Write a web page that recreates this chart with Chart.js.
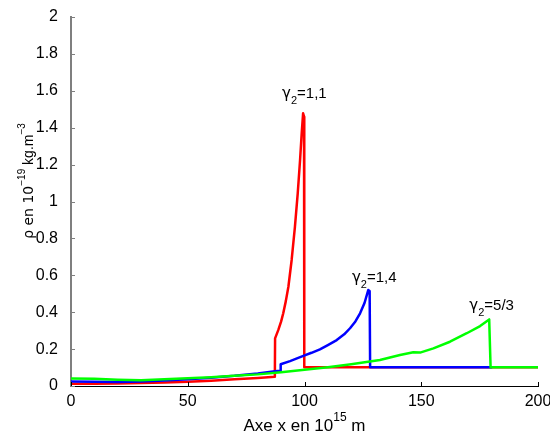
<!DOCTYPE html>
<html>
<head>
<meta charset="utf-8">
<script src="https://cdn.jsdelivr.net/npm/chart.js@4"></script>
<style>
    body { margin: 0; background: #fff; }
</style>
</head>
<body>
<canvas id="myChart" width="550" height="435"></canvas>
<script>
// Axes
const xTicks = [0, 50, 100, 150, 200];
const xTickLabels = ['0', '50', '100', '150', '200'];
const yTicks = [0, 0.2, 0.4, 0.6, 0.8, 1, 1.2, 1.4, 1.6, 1.8, 2];
const yTickLabels = ['0', '0.2', '0.4', '0.6', '0.8', '1', '1.2', '1.4', '1.6', '1.8', '2'];

// gamma2 = 1,1 (rouge)
const redX = [0, 10, 20, 30, 40, 50, 60, 70, 80, 87.3, 87.4, 88.8, 90, 90.9, 92, 93.1, 94.5, 95.9, 97.1, 98.1, 98.8, 99.4, 99.8, 99.9, 120, 140, 160, 180, 200];
const redY = [0.012, 0.012, 0.013, 0.016, 0.019, 0.023, 0.029, 0.036, 0.043, 0.05, 0.258, 0.304, 0.35, 0.394, 0.46, 0.538, 0.683, 0.863, 1.044, 1.225, 1.37, 1.478, 1.46, 0.101, 0.101, 0.101, 0.101, 0.101, 0.101];

// gamma2 = 1,4 (bleu)
const blueX = [0, 10, 20, 30, 40, 50, 60, 70, 80, 87.4, 89.7, 89.8, 93.8, 96.5, 99.5, 103, 106.6, 110, 113.8, 117, 119.5, 121.8, 123.8, 125.7, 127.3, 127.9, 128.1, 140, 160, 180];
const blueY = [0.024, 0.023, 0.022, 0.024, 0.03, 0.037, 0.045, 0.055, 0.068, 0.08, 0.083, 0.118, 0.135, 0.148, 0.163, 0.18, 0.199, 0.222, 0.249, 0.28, 0.313, 0.35, 0.394, 0.45, 0.52, 0.515, 0.101, 0.101, 0.101, 0.101];

// gamma2 = 5/3 (vert)
const greenX = [0, 10, 20, 30, 40, 50, 60, 70, 80, 90, 100, 110, 120, 132.3, 140.9, 146.6, 149.5, 155.2, 162.3, 169.5, 175.2, 179.1, 179.7, 190, 200];
const greenY = [0.04, 0.039, 0.034, 0.031, 0.036, 0.042, 0.048, 0.055, 0.063, 0.075, 0.088, 0.102, 0.118, 0.141, 0.168, 0.183, 0.181, 0.204, 0.24, 0.286, 0.325, 0.361, 0.101, 0.101, 0.101];

// Etiquettes gamma2 (coin gauche, ligne de base, en unités des axes)
const gammaTexts = ['1,1', '1,4', '5/3'];
const gammaX = [90.4, 120.3, 170.6];
const gammaY = [1.56, 0.566, 0.412];

const fontName = '"Liberation Sans", Arial, Helvetica, sans-serif';
const greekFont = '"DejaVu Sans", sans-serif';

function toPoints(xs, ys) {
    return xs.map((x, i) => ({ x: x, y: ys[i] }));
}

// texte avec exposants / indices : parts = [[texte, 0|1|-1, police?], ...]
function drawRich(ctx, parts, x, y, size, align, shift) {
    const small = Math.round(size * 0.7);
    const fontOf = p => (p[1] ? small : size) + 'px ' + (p[2] || fontName);
    let total = 0;
    const widths = parts.map(p => {
        ctx.font = fontOf(p);
        const w = ctx.measureText(p[0]).width;
        total += w;
        return w;
    });
    let cx = align === 'center' ? x - total / 2 : x;
    ctx.textAlign = 'left';
    ctx.textBaseline = 'alphabetic';
    parts.forEach((p, i) => {
        ctx.font = fontOf(p);
        let dy = 0;
        if (p[1] === 1) dy = -size * shift;
        if (p[1] === -1) dy = size * 0.4;
        ctx.fillText(p[0], cx, y + dy);
        cx += widths[i];
    });
}

const extras = {
    id: 'extras',
    afterDraw(chart) {
        const ctx = chart.ctx;
        const xs = chart.scales.x;
        const ys = chart.scales.y;
        const area = chart.chartArea;
        ctx.save();

        // graduations vers l'intérieur
        ctx.lineWidth = 1;
        ctx.strokeStyle = '#000';
        xTicks.forEach(v => {
            const px = Math.round(xs.getPixelForValue(v)) + 0.5;
            ctx.beginPath();
            ctx.moveTo(px, area.bottom);
            ctx.lineTo(px, area.bottom - 4);
            ctx.stroke();
        });
        ctx.strokeStyle = '#7f7f7f';
        yTicks.forEach(v => {
            const py = Math.round(ys.getPixelForValue(v)) + 0.5;
            ctx.beginPath();
            ctx.moveTo(area.left, py);
            ctx.lineTo(area.left + 4, py);
            ctx.stroke();
        });

        ctx.fillStyle = '#000';

        // titre axe x
        drawRich(ctx, [['Axe x en 10', 0], ['15', 1], [' m', 0]],
            (area.left + area.right) / 2, 431, 17, 'center', 0.6);

        // titre axe y
        ctx.save();
        ctx.translate(33, 181);
        ctx.rotate(-Math.PI / 2);
        drawRich(ctx, [['ρ en 10', 0, greekFont], ['−19', 1], [' kg.m', 0], ['−3', 1]],
            0, 0, 14, 'center', 0.55);
        ctx.restore();

        // annotations gamma
        gammaTexts.forEach((t, i) => {
            drawRich(ctx, [['γ', 0, greekFont], ['2', -1], ['=' + t, 0]],
                xs.getPixelForValue(gammaX[i]), ys.getPixelForValue(gammaY[i]), 15, 'left', 0);
        });

        ctx.restore();
    }
};

const ctx = document.getElementById('myChart').getContext('2d');

const config = {
    type: 'line',
    data: {
        datasets: [{
            label: 'γ2=1,1',
            data: toPoints(redX, redY),
            borderColor: 'rgb(255, 0, 0)',
            order: 3
        }, {
            label: 'γ2=1,4',
            data: toPoints(blueX, blueY),
            borderColor: 'rgb(0, 0, 255)',
            order: 2
        }, {
            label: 'γ2=5/3',
            data: toPoints(greenX, greenY),
            borderColor: 'rgb(0, 255, 0)',
            order: 1
        }]
    },
    options: {
        responsive: false,
        animation: false,
        devicePixelRatio: 1,
        elements: {
            line: {
                borderWidth: 2.5,
                tension: 0,
                borderJoinStyle: 'round',
                borderCapStyle: 'round'
            },
            point: { radius: 0 }
        },
        layout: { padding: { left: 0, right: 12, top: 17, bottom: 0 } },
        plugins: {
            legend: { display: false },
            tooltip: { enabled: false }
        },
        scales: {
            x: {
                type: 'linear',
                min: 0,
                max: 200,
                grid: { display: false },
                border: { display: true, color: '#000', width: 1 },
                ticks: {
                    color: '#000',
                    font: { family: fontName, size: 16 },
                    padding: -2,
                    maxRotation: 0,
                    autoSkip: false,
                    callback: (v, i) => xTickLabels[i]
                },
                afterBuildTicks: scale => { scale.ticks = xTicks.map(v => ({ value: v })); },
                afterFit: scale => {
                    scale.height = 49;
                    scale.paddingLeft = 0;
                    scale.paddingRight = 0;
                }
            },
            y: {
                type: 'linear',
                min: 0,
                max: 2,
                grid: { display: false },
                border: { display: true, color: '#7f7f7f', width: 2 },
                ticks: {
                    color: '#000',
                    font: { family: fontName, size: 16 },
                    padding: 5,
                    autoSkip: false,
                    callback: (v, i) => yTickLabels[i]
                },
                afterBuildTicks: scale => { scale.ticks = yTicks.map(v => ({ value: v })); },
                afterFit: scale => { scale.width = 71; }
            }
        }
    },
    plugins: [extras]
};

const myChart = new Chart(ctx, config);
</script>
</body>
</html>
